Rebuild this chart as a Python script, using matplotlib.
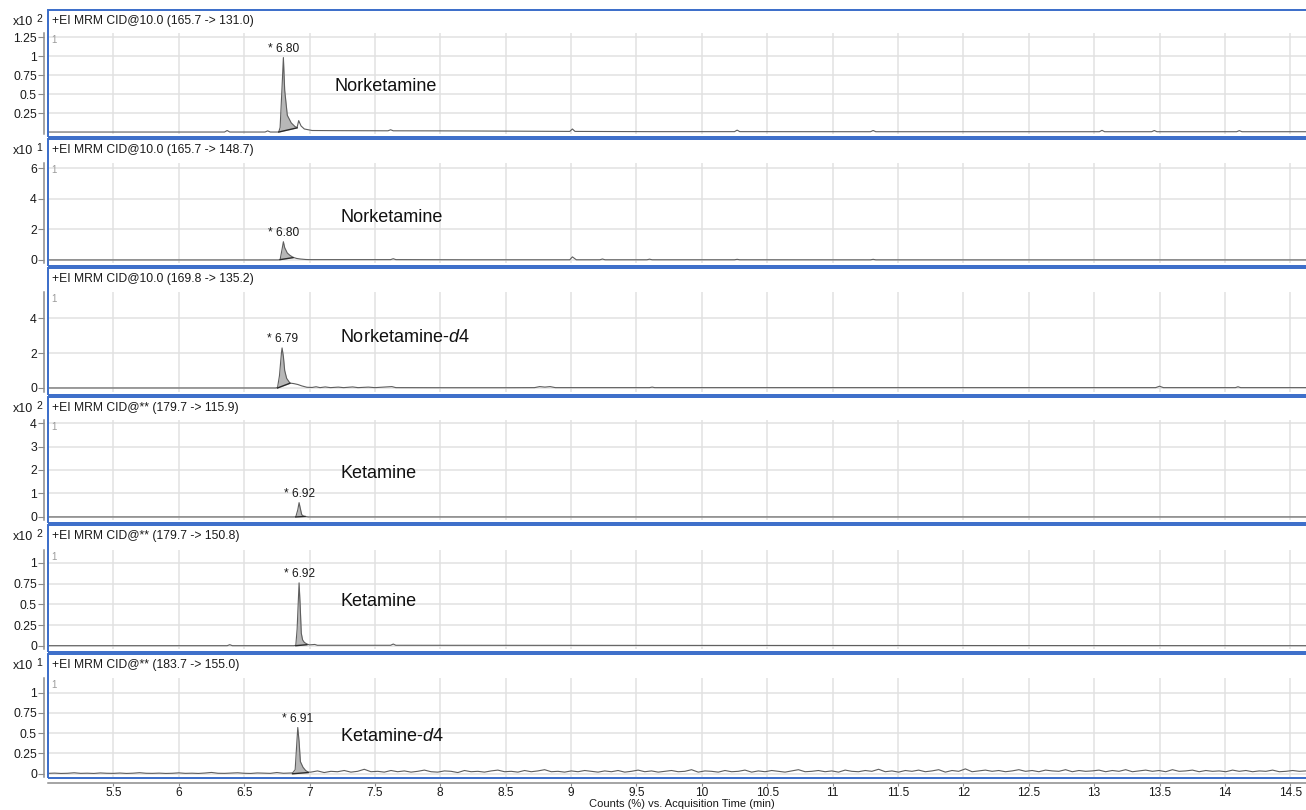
import numpy as np
import matplotlib
matplotlib.use("Agg")
import matplotlib.pyplot as plt
from matplotlib.patches import Rectangle

plt.rcParams['font.family'] = ['Liberation Sans', 'DejaVu Sans']
plt.rcParams['mathtext.fontset'] = 'custom'
plt.rcParams['mathtext.rm'] = 'Liberation Sans'
plt.rcParams['mathtext.it'] = 'Liberation Sans:italic'

# ---------------------------------------------------------------- data
titles = [
    "+EI MRM CID@10.0 (165.7 -> 131.0)",
    "+EI MRM CID@10.0 (165.7 -> 148.7)",
    "+EI MRM CID@10.0 (169.8 -> 135.2)",
    "+EI MRM CID@** (179.7 -> 115.9)",
    "+EI MRM CID@** (179.7 -> 150.8)",
    "+EI MRM CID@** (183.7 -> 155.0)",
]
exponents = [2, 1, None, 2, 2, 1]
compounds = ["Norketamine", "Norketamine", r"Norketamine-$\mathit{d4}$",
             "Ketamine", "Ketamine", r"Ketamine-$\mathit{d4}$"]
peak_rt = [6.80, 6.80, 6.79, 6.92, 6.92, 6.91]
peak_labels = ["* 6.80", "* 6.80", "* 6.79", "* 6.92", "* 6.92", "* 6.91"]

ytick_vals = [
    [0.25, 0.5, 0.75, 1, 1.25],
    [0, 2, 4, 6],
    [0, 2, 4],
    [0, 1, 2, 3, 4],
    [0, 0.25, 0.5, 0.75, 1],
    [0, 0.25, 0.5, 0.75, 1],
]
ytick_text = [
    ["0.25", "0.5", "0.75", "1", "1.25"],
    ["0", "2", "4", "6"],
    ["0", "2", "4"],
    ["0", "1", "2", "3", "4"],
    ["0", "0.25", "0.5", "0.75", "1"],
    ["0", "0.25", "0.5", "0.75", "1"],
]

# Norketamine 165.7 -> 131.0  (x10^2 counts)
p1_t = [5.00, 5.40, 5.80, 6.20, 6.35, 6.37, 6.39, 6.55, 6.66, 6.68, 6.70, 6.76,
        6.765, 6.775, 6.79, 6.80, 6.81, 6.83, 6.86, 6.89, 6.905, 6.917, 6.935,
        6.96, 7.02, 7.20, 7.60, 7.62, 7.64, 8.00, 8.50, 8.99, 9.01, 9.03, 9.60,
        10.25, 10.27, 10.29, 11.29, 11.31, 11.33, 11.80, 13.04, 13.06, 13.08,
        13.44, 13.46, 13.48, 14.09, 14.11, 14.13, 14.62]
p1_y = [0.0, 0.0, 0.0, 0.0, 0.0, 0.02, 0.0, 0.0, 0.0, 0.015, 0.0, 0.0,
        0.003, 0.06, 0.6, 0.98, 0.55, 0.22, 0.12, 0.07, 0.06, 0.15, 0.08,
        0.04, 0.02, 0.018, 0.016, 0.03, 0.016, 0.015, 0.012, 0.008, 0.04, 0.008, 0.005,
        0.005, 0.025, 0.005, 0.004, 0.02, 0.004, 0.004, 0.004, 0.022, 0.004,
        0.004, 0.02, 0.004, 0.004, 0.018, 0.004, 0.004]

# Norketamine 165.7 -> 148.7  (x10^1 counts)
p2_t = [5.00, 6.00, 6.76, 6.775, 6.79, 6.80, 6.81, 6.83, 6.85, 6.874, 6.90, 6.93,
        6.97, 7.00, 7.62, 7.64, 7.66, 8.20, 8.99, 9.01, 9.04, 9.22, 9.24, 9.26,
        9.58, 9.60, 9.62, 10.25, 10.27, 10.29, 11.29, 11.31, 11.33, 14.62]
p2_y = [0.0, 0.0, 0.0, 0.02, 0.7, 1.19, 0.8, 0.45, 0.3, 0.17, 0.1, 0.06,
        0.03, 0.02, 0.02, 0.08, 0.02, 0.01, 0.01, 0.2, 0.01, 0.01, 0.06, 0.01,
        0.01, 0.05, 0.01, 0.01, 0.04, 0.01, 0.005, 0.04, 0.005, 0.0]

# Norketamine-d4 169.8 -> 135.2  (counts)
p3_t = [5.00, 6.00, 6.50, 6.74, 6.755, 6.77, 6.785, 6.79, 6.80, 6.81, 6.825, 6.85,
        6.88, 6.91, 6.94, 6.98, 7.02, 7.05, 7.08, 7.12, 7.16, 7.22, 7.26, 7.33,
        7.37, 7.45, 7.50, 7.63, 7.66, 8.00, 8.50, 8.72, 8.76, 8.80, 8.84, 8.88,
        9.60, 9.62, 9.64, 13.47, 13.50, 13.53, 14.08, 14.10, 14.12, 14.62]
p3_y = [0.0, 0.0, 0.0, 0.0, 0.02, 0.7, 2.0, 2.29, 1.8, 1.0, 0.55, 0.28,
        0.25, 0.2, 0.12, 0.04, 0.03, 0.07, 0.02, 0.06, 0.02, 0.05, 0.02, 0.06,
        0.02, 0.05, 0.02, 0.08, 0.02, 0.015, 0.015, 0.02, 0.08, 0.05, 0.08, 0.02,
        0.02, 0.05, 0.02, 0.02, 0.1, 0.02, 0.02, 0.07, 0.02, 0.02]

# Ketamine 179.7 -> 115.9  (x10^2 counts)
p4_t = [5.00, 6.50, 6.88, 6.895, 6.91, 6.92, 6.93, 6.94, 6.955, 6.965, 6.99,
        7.50, 14.62]
p4_y = [0.0, 0.0, 0.0, 0.005, 0.3, 0.61, 0.35, 0.1, 0.03, 0.02, 0.0,
        0.0, 0.0]

# Ketamine 179.7 -> 150.8  (x10^2 counts)
p5_t = [5.00, 6.37, 6.39, 6.41, 6.88, 6.895, 6.905, 6.92, 6.928, 6.937, 6.947,
        6.96, 6.98, 7.00, 7.04, 7.06, 7.62, 7.64, 7.66, 14.62]
p5_y = [0.0, 0.0, 0.012, 0.0, 0.0, 0.005, 0.2, 0.76, 0.5, 0.15, 0.07,
        0.04, 0.02, 0.01, 0.015, 0.005, 0.005, 0.02, 0.005, 0.0]

# Ketamine-d4 183.7 -> 155.0  (x10^1 counts): baseline before the peak,
# the peak itself, and the baseline after it
p6_pre = [0.005, 0.008, 0.004, 0.006, 0.012, 0.005, 0.007, 0.004, 0.010, 0.006,
          0.005, 0.009, 0.004, 0.007, 0.013, 0.006, 0.005, 0.008, 0.004, 0.006,
          0.011, 0.005, 0.007, 0.004, 0.009, 0.016, 0.006, 0.005, 0.008, 0.012,
          0.006, 0.004, 0.010, 0.007, 0.005, 0.015, 0.006, 0.008]
p6_peak_t = [6.87, 6.89, 6.90, 6.91, 6.92, 6.93, 6.95, 6.97, 6.99]
p6_peak_y = [0.01, 0.05, 0.3, 0.57, 0.4, 0.15, 0.08, 0.04, 0.02]
p6_post = [
    0.020, 0.035, 0.015, 0.030, 0.025, 0.040, 0.020, 0.030, 0.055, 0.025, 0.030, 0.020, 0.040, 0.025, 0.035,
    0.020, 0.030, 0.045, 0.025, 0.020, 0.035, 0.030, 0.015, 0.040, 0.025, 0.030, 0.020, 0.035, 0.045, 0.025,
    0.030, 0.020, 0.040, 0.025, 0.035, 0.050, 0.025, 0.030, 0.020, 0.035, 0.025, 0.040, 0.030, 0.020, 0.035,
    0.025, 0.040, 0.020, 0.030, 0.045, 0.025, 0.035, 0.020, 0.030, 0.040, 0.025, 0.030, 0.050, 0.020, 0.035,
    0.030, 0.020, 0.040, 0.025, 0.030, 0.045, 0.020, 0.035, 0.025, 0.040, 0.030, 0.020, 0.035, 0.050, 0.025,
    0.030, 0.040, 0.025, 0.035, 0.020, 0.045, 0.030, 0.025, 0.040, 0.030, 0.055, 0.025, 0.035, 0.020, 0.040,
    0.030, 0.045, 0.025, 0.035, 0.050, 0.020, 0.040, 0.030, 0.060, 0.025, 0.035, 0.045, 0.030, 0.040, 0.025,
    0.035, 0.050, 0.030, 0.040, 0.025, 0.045, 0.035, 0.030, 0.050, 0.025, 0.040, 0.030, 0.035, 0.045, 0.025,
    0.040, 0.030, 0.050, 0.025, 0.035, 0.045, 0.030, 0.040, 0.025, 0.050, 0.030, 0.035, 0.045, 0.025, 0.040,
    0.030, 0.035, 0.025, 0.045, 0.030, 0.040, 0.025, 0.035, 0.030, 0.045, 0.025, 0.030, 0.040, 0.030, 0.035,
]
p6_t = np.concatenate([np.linspace(5.0, 6.85, len(p6_pre)), p6_peak_t,
                       np.linspace(7.01, 14.62, len(p6_post))])
p6_y = np.concatenate([p6_pre, p6_peak_y, p6_post])

traces = [(p1_t, p1_y), (p2_t, p2_y), (p3_t, p3_y),
          (p4_t, p4_y), (p5_t, p5_y), (p6_t, p6_y)]

# integrated peak window: start time, end time, baseline at start, at end
integration = [
    (6.765, 6.905, 0.0, 0.055),
    (6.775, 6.874, 0.02, 0.15),
    (6.755, 6.85, 0.0, 0.27),
    (6.895, 6.965, 0.0, 0.02),
    (6.895, 6.98, 0.0, 0.012),
    (6.87, 6.99, 0.0, 0.015),
]

# compound label anchor (time, value)
name_pos = [(7.19, 0.605), (7.236, 2.74), (7.236, 2.86),
            (7.236, 1.87), (7.236, 0.53), (7.236, 0.46)]

# ---------------------------------------------------------------- layout
W, H = 1306, 810
fig = plt.figure(figsize=(W / 100, H / 100), dpi=100)
fig.patch.set_facecolor('white')

def fx(px):
    return px / W

def fy(py):
    return 1 - py / H

borders = [(10, 137), (139, 266), (268, 395), (397, 523), (525, 652), (654, 778)]
data_box = [(33, 134), (163, 263), (292, 392), (420, 520), (550, 649), (678, 777)]
ylims = [(-0.026, 1.303), (-0.2, 6.33), (-0.23, 5.49), (-0.13, 4.13),
         (-0.04, 1.157), (-0.04, 1.18)]
x_left_px = 48
xlim = (5.0, 14.62)

blue = '#3a6cc9'
grid_c = '#e1e1e1'
axis_c = '#8c8c8c'
trace_c = '#5e5e5e'
fill_c = '#b7b7b7'
txt_c = '#1a1a1a'

for i in range(6):
    top, bot = data_box[i]
    ax = fig.add_axes([fx(x_left_px), fy(bot), 1 - fx(x_left_px), (bot - top) / H])
    ax.set_xlim(*xlim)
    ax.set_ylim(*ylims[i])
    ax.set_facecolor('none')
    ax.set_axisbelow(True)

    ax.set_xticks(np.arange(5.5, 14.51, 0.5))
    ax.set_yticks(ytick_vals[i])
    ax.set_yticklabels(ytick_text[i])
    ax.grid(True, color=grid_c, lw=1.1)

    for s in ('top', 'right', 'bottom'):
        ax.spines[s].set_visible(False)
    ax.spines['left'].set_position(('outward', 3))
    ax.spines['left'].set_color(axis_c)
    ax.spines['left'].set_linewidth(1.1)
    ax.tick_params(axis='y', length=4, width=0.8, color=axis_c, pad=1,
                   labelsize=8.8, labelcolor=txt_c)

    if i == 5:
        ax.spines['bottom'].set_visible(True)
        ax.spines['bottom'].set_position(('outward', 4))
        ax.spines['bottom'].set_color(axis_c)
        ax.spines['bottom'].set_linewidth(1.1)
        ax.set_xticklabels([f"{v:g}" for v in np.arange(5.5, 14.51, 0.5)])
        ax.tick_params(axis='x', length=2.5, width=0.8, color=axis_c, pad=1,
                       labelsize=8.6, labelcolor=txt_c)
    else:
        ax.tick_params(axis='x', length=0, labelbottom=False)

    t, y = np.asarray(traces[i][0], float), np.asarray(traces[i][1], float)

    # shaded integrated area and its baseline
    t0, t1, b0, b1 = integration[i]
    m = (t >= t0 - 1e-9) & (t <= t1 + 1e-9)
    seg_t, seg_y = t[m], y[m]
    seg_b = np.interp(seg_t, [t0, t1], [b0, b1])
    ax.fill_between(seg_t, seg_y, seg_b, color=fill_c, lw=0, zorder=2)
    ax.plot(t, y, color=trace_c, lw=0.8, zorder=3)
    ax.plot([t0, t1], [b0, b1], color='#2a2a2a', lw=1.0, zorder=4)

    # retention-time label above the apex
    k = int(np.argmin(np.abs(t - peak_rt[i])))
    ax.annotate(peak_labels[i], xy=(t[k], y[k]), xytext=(0, 2),
                textcoords='offset points', ha='center', va='bottom',
                fontsize=8.6, color=txt_c, zorder=5)

    nx, ny = name_pos[i]
    ax.text(nx, ny, compounds[i], fontsize=13, ha='left', va='center',
            color='#111111', zorder=5)

    # small trace index at the top-left corner
    fig.text(fx(51), fy(top + 7), "1", fontsize=7, color='#9a9a9a',
             ha='left', va='center')

    # panel frame, title and scale factor
    btop, bbot = borders[i]
    fig.add_artist(Rectangle((fx(x_left_px - 0.5), fy(bbot)), 1.0, (bbot - btop) / H,
                             transform=fig.transFigure, fill=False,
                             edgecolor=blue, lw=1.4, zorder=10))
    fig.text(fx(52), fy(btop + 11), titles[i], fontsize=8.7, ha='left',
             va='center', color=txt_c)
    if exponents[i] is not None:
        fig.text(fx(33), fy(btop + 12), "x10", fontsize=9, ha='right',
                 va='center', color=txt_c)
        fig.text(fx(36), fy(btop + 9), str(exponents[i]), fontsize=7.5,
                 ha='left', va='center', color=txt_c)

fig.text(fx(682), fy(804), "Counts (%) vs. Acquisition Time (min)", fontsize=8,
         ha='center', va='center', color=txt_c)

fig.savefig("out.png", dpi=100)
